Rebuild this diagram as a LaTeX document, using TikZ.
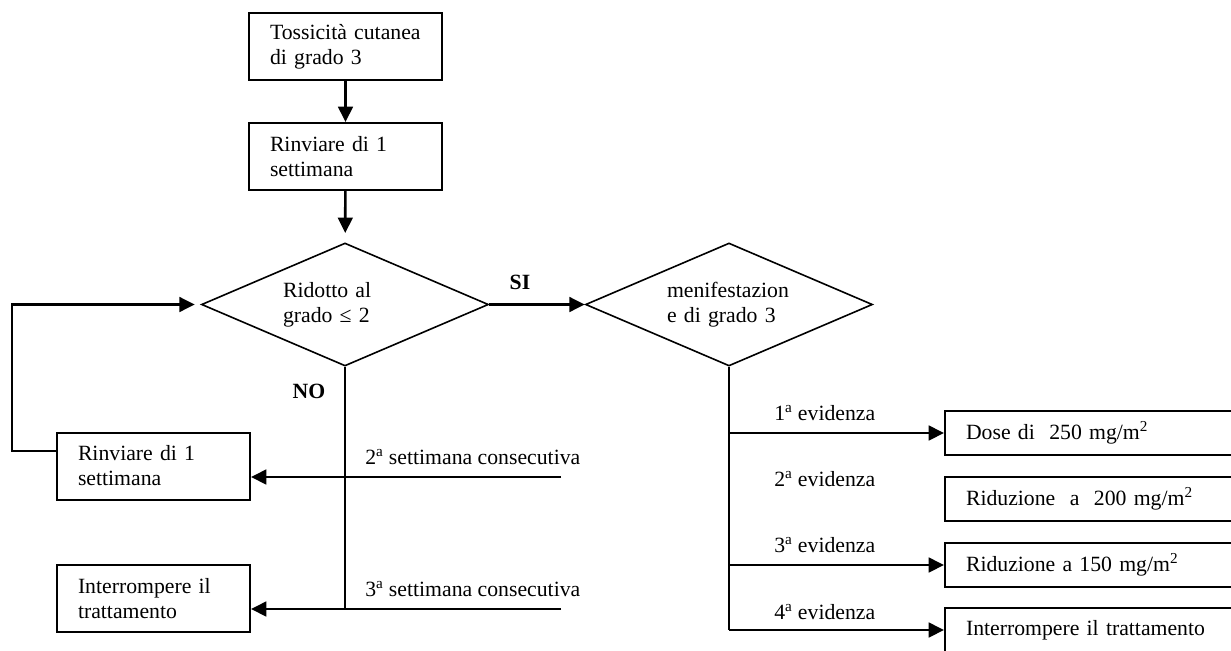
\documentclass[tikz,border=0pt]{standalone}
\usepackage{fontspec}
\setmainfont{Liberation Serif}
\usetikzlibrary{shapes.geometric,arrows.meta}
\tikzset{
  box/.style={draw,line width=1.5pt,minimum width=144.75pt,minimum height=50.25pt,inner xsep=15.75pt,text width=113.25pt,align=left},
  dosebox/.style={draw,line width=1.5pt,minimum width=221.25pt,minimum height=33pt,inner xsep=15.75pt,text width=189.75pt,align=left},
  choice/.style={draw,diamond,line width=1.2pt,minimum width=215.25pt,minimum height=92.25pt,aspect=2.33,inner sep=0pt,text width=93pt,align=left},
  arrow/.style={line width=2pt,-{Triangle[length=11.5pt,width=11pt]}},
  trunk/.style={line width=2pt},
  lbl/.style={anchor=west,inner sep=0pt}
}
\begin{document}
\begin{tikzpicture}[x=0.75pt,y=-0.75pt,font=\fontsize{16.3}{18.75}\selectfont]
\useasboundingbox (0,0) rectangle (1231,650);
\node[box] (tox) at (345.5,46.5) {Tossicità cutanea\\di grado 3};
\node[box] (rinv) at (345.5,156.5) {Rinviare di 1\\settimana};
\node[choice] (rid) at (345,304.5) {Ridotto al\\grado ≤ 2};
\node[choice] (manif) at (729,304.5) {menifestazion\\e di grado 3};
\node[box] (rinvb) at (153.5,466) {Rinviare di 1\\settimana};
\node[box] (stop) at (153.5,598.5) {Interrompere il\\trattamento};
\node[dosebox] (d250) at (1092.5,433) {Dose di \ 250 mg/m\textsuperscript{2}};
\node[dosebox] (d200) at (1092.5,499) {Riduzione \ a \ 200 mg/m\textsuperscript{2}};
\node[dosebox] (d150) at (1092.5,565) {Riduzione a 150 mg/m\textsuperscript{2}};
\node[dosebox] (stopb) at (1092.5,630) {Interrompere il trattamento};
\node (si) at (520,282) {\bfseries SI};
\node (no) at (309,391) {\bfseries NO};
\node[lbl] (wk2) at (365,457) {2\textsuperscript{a} settimana consecutiva};
\node[lbl] (wk3) at (365,589) {3\textsuperscript{a} settimana consecutiva};
\node[lbl] (ev1) at (774,413) {1\textsuperscript{a} evidenza};
\node[lbl] (ev2) at (774,479) {2\textsuperscript{a} evidenza};
\node[lbl] (ev3) at (774,545) {3\textsuperscript{a} evidenza};
\node[lbl] (ev4) at (774,612) {4\textsuperscript{a} evidenza};
\coordinate (w2) at (561,477);
\coordinate (w3) at (561,609);
\coordinate (lp) at (12,451);
\draw[arrow] (tox) -- (rinv);
\draw[arrow,shorten >=7pt] (rinv) -- (rid);
\draw[arrow] (rid) -- (manif);
\draw[arrow,shorten >=4.5pt] (rinvb.west |- lp) -- (lp) |- (rid.west);
\draw[trunk] (rid.south) -- (rid.south |- w3);
\draw[arrow] (w2) -- (w2 -| rinvb.east);
\draw[arrow] (w3) -- (w3 -| stop.east);
\draw[trunk] (manif.south) -- (manif.south |- stopb.west);
\draw[arrow] (manif.south |- d250.west) -- (d250.west);
\draw[arrow] (manif.south |- d150.west) -- (d150.west);
\draw[arrow] (manif.south |- stopb.west) -- (stopb.west);
\end{tikzpicture}
\end{document}
